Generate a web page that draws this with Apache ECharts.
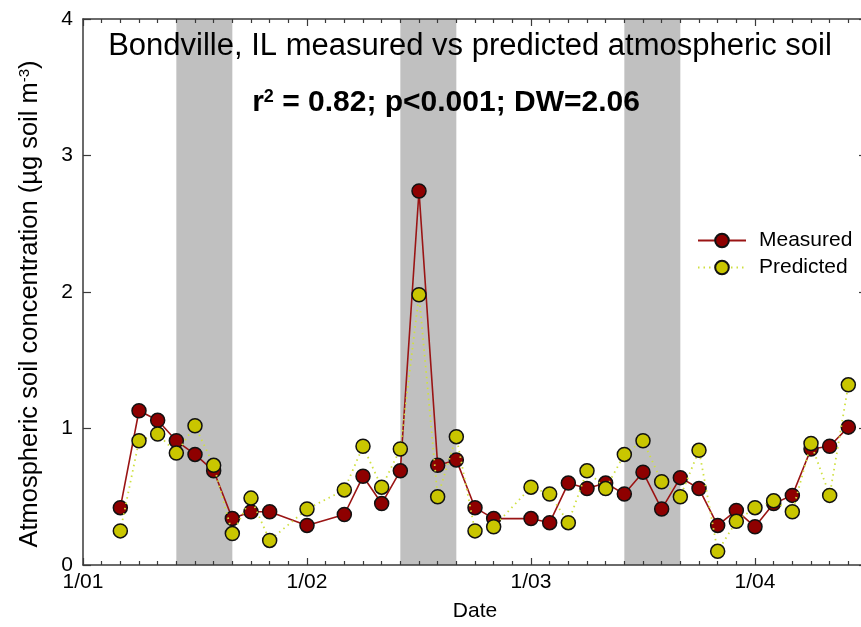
<!DOCTYPE html>
<html>
<head>
<meta charset="utf-8">
<script src="https://cdn.jsdelivr.net/npm/echarts@6/dist/echarts.min.js"></script>
<style>
html,body{margin:0;padding:0;background:#fff;overflow:hidden;width:861px;height:627px;}
#chart{width:900px;height:627px;}
</style>
</head>
<body>
<div id="chart"></div>
<script>
// ---- data (month of sample, measured and predicted, µg soil m^-3) ----
const months = [
  '2001-03','2001-04','2001-05','2001-06','2001-07','2001-08','2001-09','2001-10','2001-11',
  '2002-01','2002-03','2002-04','2002-05','2002-06','2002-07','2002-08','2002-09','2002-10','2002-11',
  '2003-01','2003-02','2003-03','2003-04','2003-05','2003-06','2003-07','2003-08','2003-09','2003-10','2003-11','2003-12',
  '2004-01','2004-02','2004-03','2004-04','2004-05','2004-06'
];
const measured = [
  0.42,1.13,1.06,0.91,0.81,0.69,0.34,0.39,0.39,
  0.29,0.37,0.65,0.45,0.69,2.74,0.73,0.77,0.42,0.34,
  0.34,0.31,0.60,0.56,0.60,0.52,0.68,0.41,0.64,0.56,0.29,0.40,
  0.28,0.45,0.51,0.85,0.87,1.01
];
const predicted = [
  0.25,0.91,0.96,0.82,1.02,0.73,0.23,0.49,0.18,
  0.41,0.55,0.87,0.57,0.85,1.98,0.50,0.94,0.25,0.28,
  0.57,0.52,0.31,0.69,0.56,0.81,0.91,0.61,0.50,0.84,0.10,0.32,
  0.42,0.47,0.39,0.89,0.51,1.32
];
// summer periods (shaded)
const bandStarts = ['2001-06','2002-06','2003-06'];
const bandEnds   = ['2001-09','2002-09','2003-09'];
// x axis tick labels (January of each year)
const xTickLabels = ['1/01','1/02','1/03','1/04'];
const yTicks = [0,1,2,3,4];

const baseYear = 2001;
function mIdx(s){ const p = s.split('-'); return (parseInt(p[0])-baseYear)*12 + parseInt(p[1]) - 1; }

const measData = months.map((m,i)=>[mIdx(m), measured[i]]);
const predData = months.map((m,i)=>[mIdx(m), predicted[i]]);
const bands = bandStarts.map((s,i)=>[{xAxis:mIdx(s)},{xAxis:mIdx(bandEnds[i])}]);

const FONT = 'Liberation Sans, Arial, sans-serif';
const AXC = '#3a3a3a';

const chart = echarts.init(document.getElementById('chart'), null, {renderer:'canvas'});
const xCommon = {
  type:'value', min:0, max:42, interval:12, z:10,
  axisLine:{show:true, onZero:false, lineStyle:{color:AXC, width:1.5}},
  axisTick:{show:true, inside:true, length:7, lineStyle:{color:AXC, width:1.2}},
  minorTick:{show:true, splitNumber:12, length:4, lineStyle:{color:AXC, width:1.2}},
  splitLine:{show:false}
};
chart.setOption({
  animation:false,
  backgroundColor:'#fff',
  title:[
    {text:'Bondville, IL measured vs predicted atmospheric soil', left:465, top:26, textAlign:'center',
     textStyle:{fontFamily:FONT, fontSize:31, fontWeight:'normal', color:'#000'}},
    {text:'r{sup|2} = 0.82; p<0.001; DW=2.06', left:441, top:83, textAlign:'center',
     textStyle:{fontFamily:FONT, fontSize:30, fontWeight:'bold', color:'#000',
       rich:{sup:{fontFamily:FONT, fontSize:18, fontWeight:'bold', color:'#000', verticalAlign:'top', lineHeight:14}}}}
  ],
  legend:{
    orient:'vertical', left:692, top:225, itemWidth:48, itemHeight:17, itemGap:6,
    textStyle:{fontFamily:FONT, fontSize:21, color:'#000', padding:[0,0,0,8]},
    data:['Measured','Predicted']
  },
  grid:{left:83, right:33, top:19, bottom:62, containLabel:false},
  xAxis:[
    Object.assign({}, xCommon, {
      position:'bottom', name:'Date', nameLocation:'middle', nameGap:36,
      nameTextStyle:{fontFamily:FONT, fontSize:21, color:'#000'},
      axisLabel:{show:true, margin:7, fontFamily:FONT, fontSize:21, color:'#000',
        formatter:v=>{const k=Math.round(v/12); return (Math.abs(v-k*12)<1e-6 && xTickLabels[k]!==undefined)?xTickLabels[k]:'';}}
    }),
    Object.assign({}, xCommon, {position:'top', axisLabel:{show:false}})
  ],
  yAxis:[
    {type:'value', min:0, max:4, interval:1, position:'left', z:10,
     name:'Atmospheric soil concentration (µg soil m{sup|-3})', nameLocation:'middle', nameGap:40,
     nameTextStyle:{fontFamily:FONT, fontSize:25.5, color:'#000', padding:[0,24,0,0],
       rich:{sup:{fontFamily:FONT, fontSize:15, color:'#000', verticalAlign:'top', lineHeight:12}}},
     axisLine:{show:true, onZero:false, lineStyle:{color:AXC, width:1.5}},
     axisTick:{show:true, inside:true, length:8, lineStyle:{color:AXC, width:1.2}},
     axisLabel:{margin:10, fontFamily:FONT, fontSize:21, color:'#000',
       formatter:v=>yTicks.indexOf(v)>=0?String(v):''},
     splitLine:{show:false}},
    {type:'value', min:0, max:4, interval:1, position:'right', z:10,
     axisLine:{show:true, onZero:false, lineStyle:{color:AXC, width:1.5}},
     axisTick:{show:true, inside:true, length:8, lineStyle:{color:AXC, width:1.2}},
     axisLabel:{show:false}, splitLine:{show:false}}
  ],
  series:[
    {name:'Measured', type:'line', xAxisIndex:0, yAxisIndex:0, data:measData, z:3,
     symbol:'circle', symbolSize:14, showAllSymbol:true,
     lineStyle:{color:'#9a1414', width:1.6},
     itemStyle:{color:'#8e0000', borderColor:'#111', borderWidth:1.5},
     markArea:{silent:true, itemStyle:{color:'#c0c0c0', opacity:1}, data:bands}},
    {name:'Predicted', type:'line', xAxisIndex:0, yAxisIndex:0, data:predData, z:4,
     symbol:'circle', symbolSize:14, showAllSymbol:true,
     lineStyle:{color:'#cfe040', width:1.8, type:[1.5,4]},
     itemStyle:{color:'#c9c600', borderColor:'#111', borderWidth:1.5}}
  ]
});
</script>
</body>
</html>
